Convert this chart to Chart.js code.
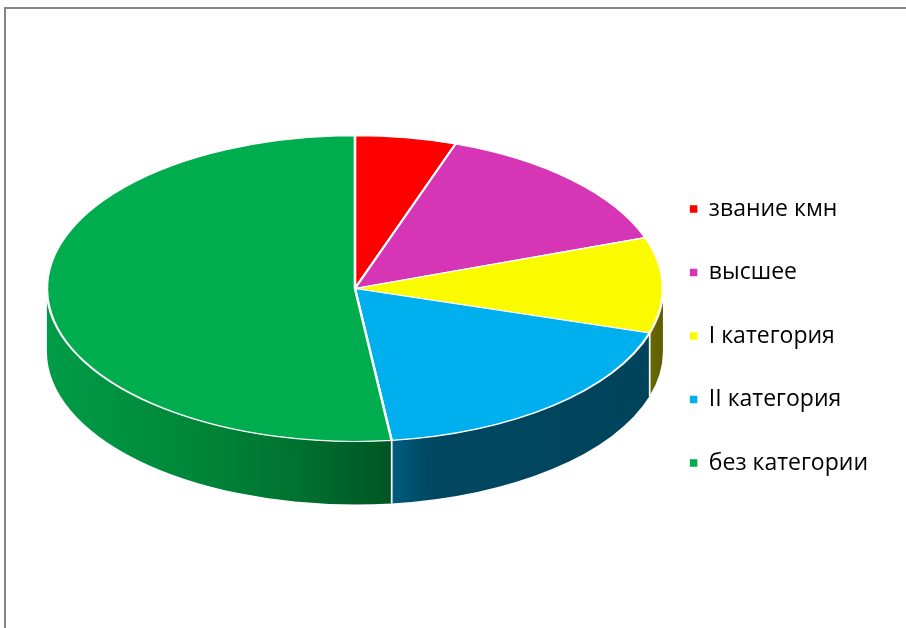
<!DOCTYPE html>
<html>
<head>
<meta charset="utf-8">
<script src="https://cdn.jsdelivr.net/npm/chart.js@4.4.1/dist/chart.umd.min.js"></script>
<style>
  html, body { margin: 0; padding: 0; background: #fff; overflow: hidden; }
  #frame { position: absolute; left: 4px; top: 7px; width: 1200px; height: 900px;
           border-top: 2px solid #868686; border-left: 2px solid #868686; pointer-events: none; }
  #c { position: absolute; left: 0; top: 0; }
</style>
</head>
<body>
<div id="frame"></div>
<canvas id="c" width="906" height="628"></canvas>
<script>
// ---- data ----
const categories = ['звание кмн', 'высшее', 'I категория', 'II категория', 'без категории'];
const values = [5.3, 14.3, 10.1, 18.4, 51.9];
const sliceColors = ['#ff0000', '#d635b5', '#fafa00', '#00b0ee', '#00ad4e'];

// side-wall shading (style only)
const wallStops = [
  [[0, '#990000'], [1, '#770000']],
  [[0, '#80206c'], [1, '#601850']],
  [[0, '#6a6a00'], [1, '#5e5e00']],
  [[0, '#005c80'], [0.15, '#00475f'], [1, '#00445c']],
  [[0, '#009c48'], [0.35, '#008b3b'], [0.7, '#007431'], [1, '#005522']]
];

const pie3d = {
  id: 'pie3d',
  beforeDatasetsDraw(chart, args, opts) {
    const meta = chart.getDatasetMeta(0);
    const ctx = chart.ctx;
    const el = meta.data[0];
    const cx = el.x, cy = el.y, R = el.outerRadius;
    const k = opts.tilt, ty = opts.centerY, D = opts.depth;
    const r = R * k;
    ctx.save();
    meta.data.forEach((arc, i) => {
      let a = Math.max(arc.startAngle, 0);
      let b = Math.min(arc.endAngle, Math.PI);
      if (b <= a) return;
      const xa = cx + R * Math.cos(a), xb = cx + R * Math.cos(b);
      const x0 = Math.min(xa, xb), x1 = Math.max(xa, xb);
      const g = ctx.createLinearGradient(x0, 0, x1, 0);
      wallStops[i].forEach(s => g.addColorStop(s[0], s[1]));
      ctx.beginPath();
      ctx.ellipse(cx, ty, R, r, 0, a, b, false);
      ctx.ellipse(cx, ty + D, R, r, 0, b, a, true);
      ctx.closePath();
      ctx.fillStyle = g;
      ctx.fill();
      ctx.strokeStyle = '#ffffff';
      ctx.lineWidth = 1.5;
      [a, b].forEach(t => {
        if (t > 0.001 && t < Math.PI - 0.001) {
          const x = cx + R * Math.cos(t), y = ty + r * Math.sin(t);
          ctx.beginPath();
          ctx.moveTo(x, y);
          ctx.lineTo(x, y + D);
          ctx.stroke();
        }
      });
    });
    ctx.restore();
    ctx.save();
    ctx.translate(0, ty);
    ctx.scale(1, k);
    ctx.translate(0, -cy);
  },
  afterDatasetsDraw(chart) {
    chart.ctx.restore();
  }
};

new Chart(document.getElementById('c'), {
  type: 'pie',
  data: {
    labels: categories,
    datasets: [{
      data: values,
      backgroundColor: sliceColors,
      borderColor: '#ffffff',
      borderWidth: 2.5,
      clip: false
    }]
  },
  plugins: [pie3d],
  options: {
    responsive: false,
    animation: false,
    radius: 308,
    layout: { padding: { left: 60.5, right: 28, top: 44, bottom: 0 } },
    plugins: {
      pie3d: { tilt: 0.4967, centerY: 288.5, depth: 63 },
      tooltip: { enabled: false },
      legend: {
        position: 'right',
        labels: {
          color: '#000000',
          boxWidth: 7.5,
          boxHeight: 7.5,
          padding: 40.5,
          font: { family: 'Open Sans', size: 23 },
          generateLabels(chart) {
            const items = Chart.overrides.pie.plugins.legend.labels.generateLabels(chart);
            return items.map(it => Object.assign(it, { lineWidth: 0, strokeStyle: it.fillStyle }));
          }
        }
      }
    }
  }
});
</script>
</body>
</html>
